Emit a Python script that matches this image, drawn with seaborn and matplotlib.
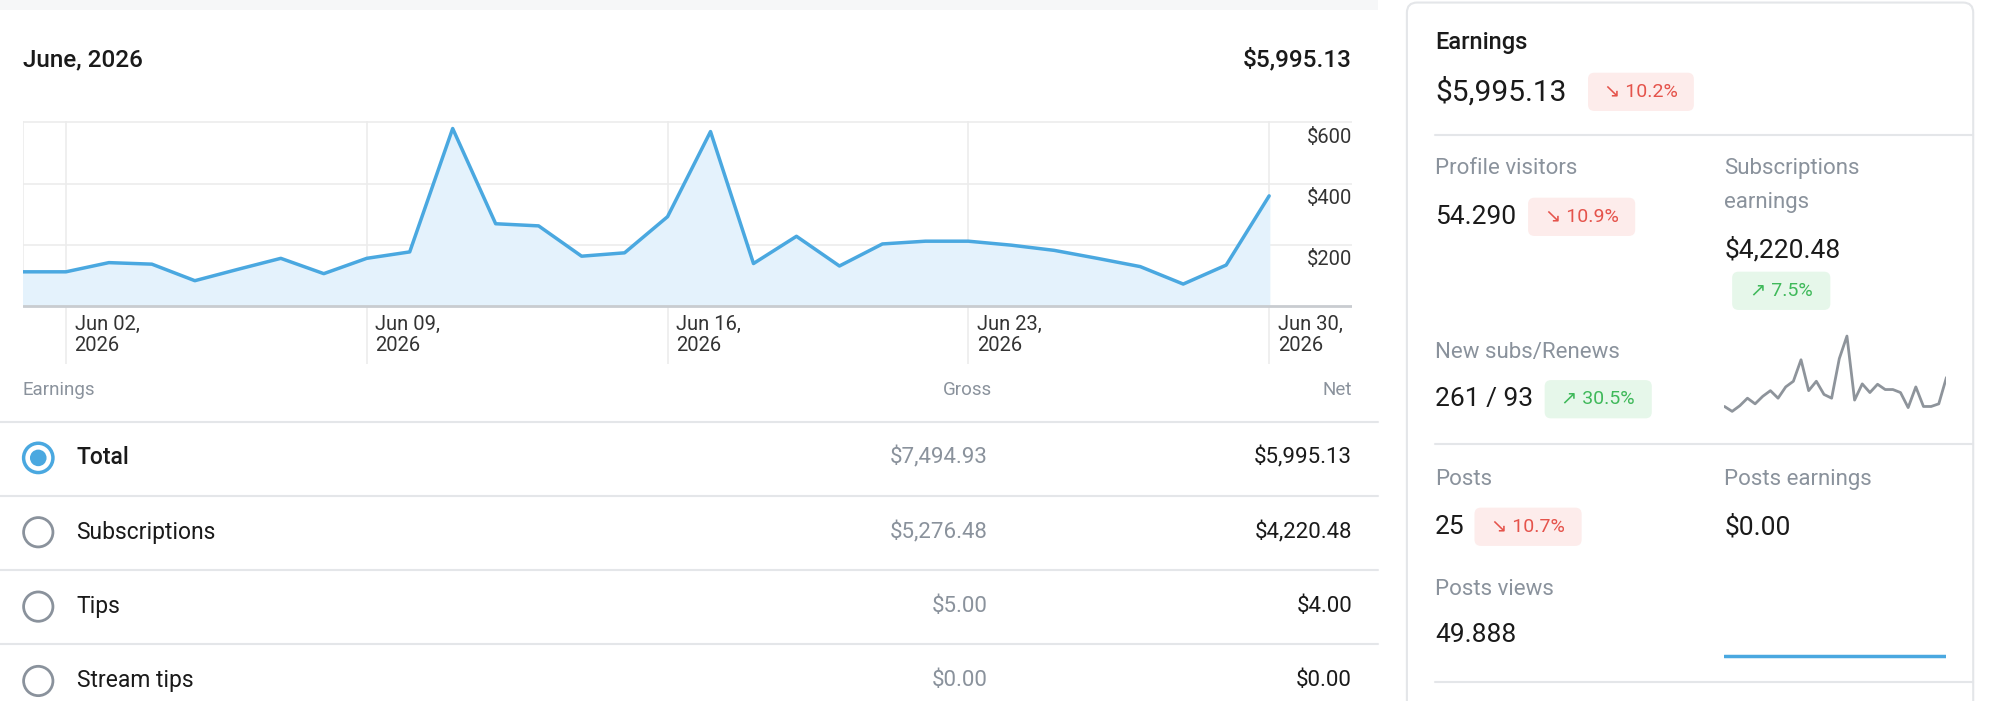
import numpy as np
import pandas as pd
import matplotlib.pyplot as plt
import seaborn as sns
from matplotlib.patches import FancyBboxPatch, Circle

sns.set_theme(style="white")
plt.rcParams["font.family"] = ["Roboto", "DejaVu Sans"]

# ---- data ----
days = list(range(1, 31))
earnings = [112, 112, 142, 137, 83, 120, 156, 106, 156, 177, 580, 269, 262, 163, 174,
            292, 570, 139, 228, 131, 203, 212, 212, 199, 182, 156, 129, 72, 134, 360]
subs_spark = [48, 35, 50, 70, 55, 75, 90, 70, 100, 115, 172, 90, 115, 80, 70,
              175, 235, 65, 108, 85, 107, 93, 93, 85, 45, 100, 48, 48, 55, 125]
views_spark = [0] * 30
tick_days = [2, 9, 16, 23, 30]
tick_labels = ["Jun 02,\n2026", "Jun 09,\n2026", "Jun 16,\n2026", "Jun 23,\n2026", "Jun 30,\n2026"]
y_ticks = [200, 400, 600]
rows = ["Total", "Subscriptions", "Tips", "Stream tips"]
gross = ["$7,494.93", "$5,276.48", "$5.00", "$0.00"]
net = ["$5,995.13", "$4,220.48", "$4.00", "$0.00"]

BLUE = "#4aa8e0"
FILL = "#e4f2fc"
GRAY = "#8a929c"
DARK = "#1a1a1a"
SEP = "#e4e6e9"
RED_BG, RED = "#fdeceb", "#e5534b"
GRN_BG, GRN = "#e6f7ea", "#3fb95a"

W, H = 1568, 549.6  # layout units (scaled to 2000x701)
fig = plt.figure(figsize=(20, 7.01), dpi=100)
bg = fig.add_axes([0, 0, 1, 1])
bg.set_xlim(0, W)
bg.set_ylim(H, 0)
bg.axis("off")


def fa(x0, y0, x1, y1):
    return [x0 / W, 1 - y1 / H, (x1 - x0) / W, (y1 - y0) / H]


def txt(x, y, s, size, color=DARK, ha="left", weight="normal", **kw):
    bg.text(x, y, s, fontsize=size, color=color, ha=ha, va="center", weight=weight, **kw)


def badge(x0, x1, yc, s, up):
    bg.add_patch(FancyBboxPatch((x0, yc - 15), x1 - x0, 30, boxstyle="round,pad=0,rounding_size=5",
                                fc=GRN_BG if up else RED_BG, ec="none"))
    txt((x0 + x1) / 2, yc, s, 14, GRN if up else RED, ha="center")


# top strip
bg.add_patch(plt.Rectangle((0, 0), 1080, 8, fc="#f6f7f8", ec="none"))
txt(18, 47, "June, 2026", 17.5, weight="medium")
txt(1060, 47, "$5,995.13", 17.5, ha="right", weight="medium")

# table
txt(18, 306, "Earnings", 13.5, GRAY)
txt(778, 306, "Gross", 13.5, GRAY, ha="right")
txt(1060, 306, "Net", 13.5, GRAY, ha="right")
for ys in [331, 389, 447, 505]:
    bg.plot([0, 1080], [ys, ys], color=SEP, lw=1.5)
for i, (r, g, n) in enumerate(zip(rows, gross, net)):
    yc = 359 + i * 58.3
    if i == 0:
        bg.add_patch(Circle((30, yc), 11.5, fc="white", ec=BLUE, lw=2.5))
        bg.add_patch(Circle((30, yc), 6.5, fc=BLUE, ec="none"))
    else:
        bg.add_patch(Circle((30, yc), 11.5, fc="white", ec=GRAY, lw=2))
    txt(60, yc, r, 16.5, weight="medium" if i == 0 else "normal")
    txt(774, yc, g, 16, GRAY, ha="right")
    txt(1060, yc, n, 16, ha="right")

# right card
bg.add_patch(FancyBboxPatch((1103, 2), 444, 560, boxstyle="round,pad=0,rounding_size=8",
                            fc="white", ec=SEP, lw=1.5))
txt(1125, 33, "Earnings", 17, weight="medium")
txt(1125, 72, "$5,995.13", 21.5)
badge(1245, 1328, 72, "↘ 10.2%", False)
for ys in [106, 348, 535]:
    bg.plot([1125, 1547], [ys, ys], color=SEP, lw=1.5)
txt(1125, 132, "Profile visitors", 16, GRAY)
txt(1125, 170, "54.290", 19)
badge(1198, 1282, 170, "↘ 10.9%", False)
txt(1352, 132, "Subscriptions", 16, GRAY)
txt(1352, 159, "earnings", 16, GRAY)
txt(1352, 196, "$4,220.48", 19)
badge(1358, 1435, 228, "↗ 7.5%", True)
txt(1125, 276, "New subs/Renews", 16, GRAY)
txt(1125, 313, "261 / 93", 19)
badge(1211, 1295, 313, "↗ 30.5%", True)
txt(1125, 376, "Posts", 16, GRAY)
txt(1125, 413, "25", 19)
badge(1156, 1240, 413, "↘ 10.7%", False)
txt(1352, 376, "Posts earnings", 16, GRAY)
txt(1352, 413, "$0.00", 19)
txt(1125, 462, "Posts views", 16, GRAY)
txt(1125, 498, "49.888", 19)

# main chart
ax = fig.add_axes(fa(18, 95, 1060, 285))
ax.set_facecolor("none")
df = pd.DataFrame({"day": days, "earn": earnings})
ax.fill_between(df["day"], 0, df["earn"], color=FILL, zorder=1)
sns.lineplot(data=df, x="day", y="earn", ax=ax, color=BLUE, lw=2.5, zorder=3)
ax.set_xlim(1, 30 + 65 / 33.7)
ax.set_ylim(-187.5, 604)
for yt in y_ticks:
    ax.axhline(yt, color="#ececec", lw=1.2, zorder=0)
    ax.text(ax.get_xlim()[1], yt - 18, f"${yt}", ha="right", va="top", fontsize=14.5, color="#333333")
ax.axhline(0, color="#c9ccd0", lw=2, zorder=2)
for d, lab in zip(tick_days, tick_labels):
    ax.axvline(d, color="#ececec", lw=1.2, zorder=0)
    ax.text(d + 0.2, -28, lab, ha="left", va="top", fontsize=14.5, color="#333333", linespacing=1.15)
ax.axvline(1, ymin=(0 + 187.5) / 791.5, color="#ececec", lw=1.2, zorder=0)
ax.set_axis_off()

# sparklines
sp = fig.add_axes(fa(1352, 262, 1526, 324))
sns.lineplot(x=days, y=subs_spark, ax=sp, color="#8e949b", lw=2)
sp.set_xlim(1, 30)
sp.set_ylim(30, 240)
sp.set_axis_off()

pv = fig.add_axes(fa(1352, 505, 1526, 524))
sns.lineplot(x=days, y=views_spark, ax=pv, color=BLUE, lw=2.5)
pv.set_xlim(1, 30)
pv.set_ylim(-1, 1)
pv.set_axis_off()

fig.savefig("out.png", dpi=100, facecolor="white")
